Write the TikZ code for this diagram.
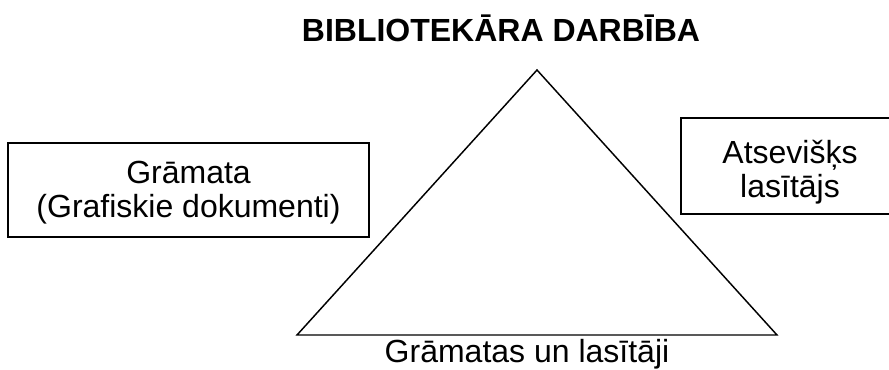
\documentclass[tikz,border=0pt]{standalone}
\usepackage{fontspec}
\setmainfont{Liberation Sans}
\usepackage{tikz}
\usetikzlibrary{positioning}
\usepackage{xcolor}

\begin{document}
\begin{tikzpicture}[
  x=0.75pt, y=-0.75pt,
  box/.style={
    rectangle, draw=black, line width=1.4pt, align=center,
    font=\fontsize{24}{25.5}\selectfont, inner sep=0pt
  },
  heading/.style={font=\bfseries\fontsize{24}{28}\selectfont, anchor=base},
  caption/.style={font=\fontsize{24}{28}\selectfont, anchor=base},
  edge/.style={draw=black, line width=1.1pt, line join=miter}
]

% Page frame (the right box runs off the page)
\useasboundingbox (0,0) rectangle (889,369);
\clip (0,0) rectangle (889,369);

% Title
\node[heading] (title) at (501,41) {BIBLIOTEKĀRA DARBĪBA};

% Triangle corners
\coordinate (apex) at (537,70);
\coordinate (left) at (297,335);
\coordinate (right) at (777,335);
\draw[edge] (apex) -- (right) -- (left) -- cycle;

% Label under the base
\node[caption] (base) at (527,362) {Grāmatas un lasītāji};

% Side boxes
\node[box, minimum width=270.75pt, minimum height=70.5pt]
  (book) at (188.5,190) {\rule{0pt}{21pt}Grāmata\\(Grafiskie dokumenti)};
\node[box, minimum width=163.5pt, minimum height=72pt]
  (reader) at (790,166) {\rule{0pt}{26pt}Atsevišķs\\lasītājs};

\end{tikzpicture}
\end{document}
